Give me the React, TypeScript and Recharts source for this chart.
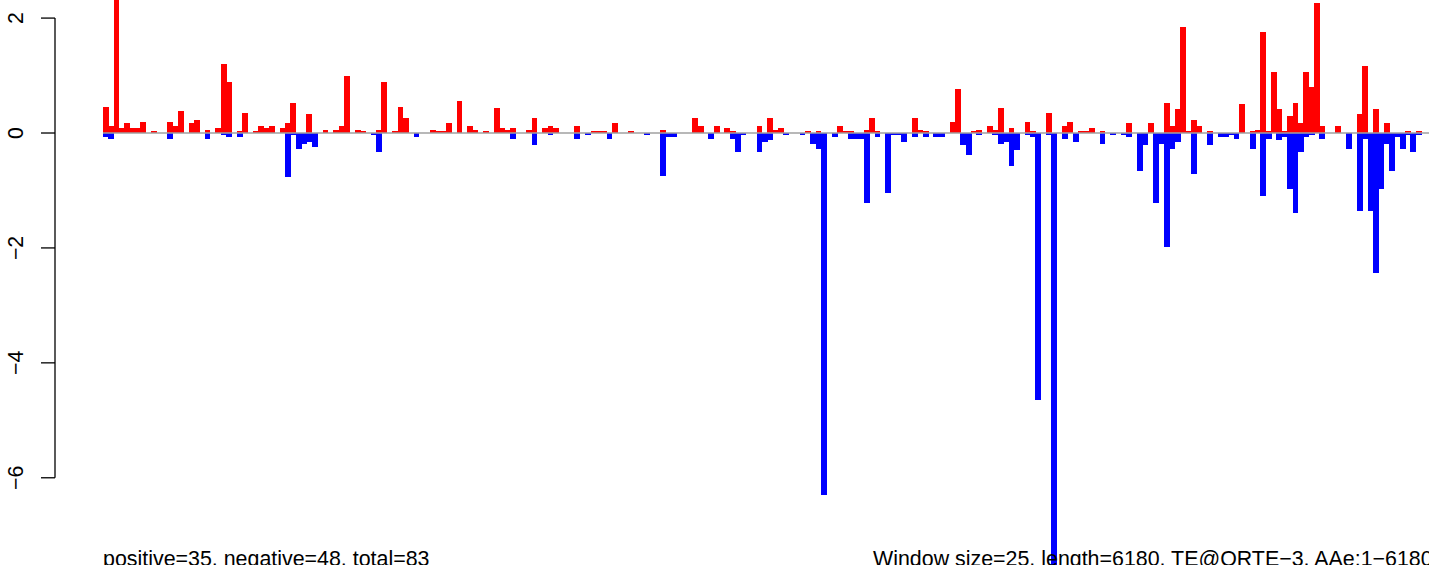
import React from 'react';
import { BarChart, Bar, XAxis, YAxis, ReferenceLine } from 'recharts';

// per-window scores, 25 aa windows
const positive = [
  0.46, 0.12, 2.6, 0.08, 0.17, 0.08, 0.08, 0.2, 0, 0.03,
  0, 0, 0.2, 0.12, 0.38, 0, 0.17, 0.22, 0, 0.05,
  0, 0.08, 1.2, 0.88, 0, 0.03, 0.34, 0, 0.03, 0.13,
  0.08, 0.12, 0, 0.08, 0.17, 0.52, 0, 0, 0.33, 0,
  0, 0.05, 0, 0.05, 0.12, 0.99, 0, 0.05, 0.03, 0,
  0, 0.05, 0.88, 0, 0.03, 0.46, 0.26, 0, 0, 0,
  0, 0.05, 0.03, 0.03, 0.17, 0, 0.55, 0, 0.12, 0.05,
  0, 0.03, 0, 0.43, 0.08, 0.05, 0.08, 0, 0, 0.05,
  0.26, 0, 0.08, 0.13, 0.08, 0, 0, 0, 0.12, 0,
  0, 0.03, 0.03, 0.03, 0, 0.17, 0, 0, 0.03, 0,
  0, 0, 0, 0, 0.05, 0, 0, 0, 0, 0,
  0.26, 0.12, 0, 0, 0.12, 0, 0.08, 0.03, 0, 0,
  0, 0, 0.13, 0, 0.26, 0.05, 0.08, 0, 0, 0,
  0, 0.03, 0, 0.03, 0, 0, 0, 0.12, 0.03, 0.03,
  0, 0, 0.05, 0.26, 0.03, 0, 0, 0, 0, 0,
  0, 0.26, 0.05, 0.03, 0, 0, 0, 0, 0.2, 0.76,
  0, 0, 0.03, 0.05, 0, 0.12, 0.05, 0.43, 0, 0.08,
  0, 0, 0.2, 0.03, 0, 0, 0.34, 0, 0, 0.13,
  0.2, 0, 0.03, 0.03, 0.08, 0, 0.03, 0, 0, 0,
  0, 0.17, 0, 0, 0, 0.17, 0, 0, 0.52, 0.13,
  0.41, 1.84, 0.03, 0.22, 0.13, 0, 0.03, 0, 0, 0,
  0, 0, 0.5, 0, 0.03, 0.05, 1.75, 0.03, 1.07, 0.41,
  0.03, 0.29, 0.52, 0.17, 1.07, 0.8, 2.26, 0.13, 0, 0,
  0.12, 0, 0, 0, 0.33, 1.16, 0, 0.41, 0, 0.17,
  0, 0, 0, 0.03, 0, 0.03,
];

const negative = [
  -0.07, -0.1, 0, 0, 0, 0, 0, 0, 0, 0,
  0, 0, -0.1, 0, 0, 0, 0, 0, 0, -0.1,
  0, 0, -0.03, -0.07, 0, -0.07, 0, 0, 0, 0,
  0, 0, 0, 0, -0.77, -0.03, -0.28, -0.19, -0.16, -0.24,
  0, 0, 0, 0, 0, 0, 0, 0, 0, 0,
  -0.03, -0.33, 0, 0, 0, 0, 0, 0, -0.07, 0,
  0, 0, 0, 0, 0, 0, 0, 0, 0, 0,
  0, 0, 0, 0, 0, 0, -0.1, 0, 0, 0,
  -0.21, 0, 0, -0.03, 0, 0, 0, 0, -0.1, 0,
  -0.03, 0, 0, 0, -0.1, 0, 0, 0, 0, 0,
  0, -0.03, 0, 0, -0.75, -0.07, -0.07, 0, 0, 0,
  0, 0, 0, -0.1, 0, 0, 0, -0.1, -0.33, -0.03,
  0, 0, -0.33, -0.16, -0.12, 0, 0, -0.03, 0, 0,
  -0.03, 0, -0.19, -0.28, -6.3, 0, -0.07, 0, 0, -0.1,
  -0.1, -0.1, -1.22, 0, -0.07, 0, -1.05, -0.03, -0.03, -0.16,
  0, -0.07, 0, -0.07, 0, -0.07, -0.07, 0, 0, 0,
  -0.21, -0.38, 0, -0.03, 0, 0, -0.03, -0.19, -0.16, -0.57,
  -0.3, 0, -0.03, -0.07, -4.65, 0, -0.03, -8.0, 0, -0.1,
  0, -0.16, 0, 0, 0, 0, -0.19, 0, -0.03, 0,
  -0.03, -0.07, 0, -0.66, -0.21, 0, -1.21, -0.19, -1.98, -0.28,
  -0.16, 0, 0, -0.71, 0, 0, -0.21, 0, -0.07, -0.07,
  -0.03, -0.1, 0, 0, -0.28, 0, -1.1, -0.1, 0, -0.12,
  -0.07, -0.98, -1.39, -0.33, -0.07, -0.03, 0, -0.1, 0, 0,
  0, 0, -0.28, 0, -1.36, -0.1, -1.36, -2.44, -0.98, -0.19,
  -0.66, -0.07, -0.28, -0.03, -0.33, -0.03,
];

const windowNo = positive.map((_, i) => i + 1);
const yTicks = [2, 0, -2, -4, -6];

const leftNote = 'positive=35, negative=48, total=83';
const rightNote = 'Window size=25, length=6180, TE@QRTE\u22123, AAe:1\u22126180';

const data = windowNo.map((w, i) => ({ w, pos: positive[i], neg: negative[i] }));

const W = 1429;
const H = 565;
const PLOT_LEFT = 103;
const RIGHT_PAD = 7.6;
const Y_MAX = 2.3147;
const Y_MIN = -7.518;
const AXIS_X = 55;
const TICK_LEN = 14;
const LABEL_X = 23;
const FONT = '"Liberation Sans", Arial, Helvetica, sans-serif';

const fmt = (v: number) => (v < 0 ? `\u2212${-v}` : `${v}`);

const YTick = (props: any) => {
  const { y, payload } = props;
  const pxPerUnit = H / (Y_MAX - Y_MIN);
  const span = (yTicks[0] - yTicks[yTicks.length - 1]) * pxPerUnit;
  return (
    <g>
      <line x1={AXIS_X - TICK_LEN} x2={AXIS_X} y1={y} y2={y} stroke="#000" strokeWidth={1.3} />
      {payload.value === yTicks[0] && (
        <line x1={AXIS_X} x2={AXIS_X} y1={y} y2={y + span} stroke="#000" strokeWidth={1.3} />
      )}
      <text
        x={LABEL_X}
        y={y}
        transform={`rotate(-90 ${LABEL_X} ${y})`}
        textAnchor="middle"
        fontSize={21.3}
        fontFamily={FONT}
        fill="#000"
      >
        {fmt(payload.value)}
      </text>
    </g>
  );
};

// solid block bars like R's barplot(space = 0): widen a hair so no seams show
const BlockBar = (props: any) => {
  const { x, y, width, height, fill } = props;
  if (!height || !width) return null;
  const top = Math.min(y, y + height);
  return (
    <rect
      x={x - 0.2}
      y={top}
      width={width + 0.5}
      height={Math.abs(height)}
      fill={fill}
      shapeRendering="crispEdges"
    />
  );
};

export default function App() {
  return (
    <div style={{ position: 'absolute', left: 0, top: 0, width: W, height: H, background: '#fff' }}>
      <BarChart
        width={W}
        height={H}
        data={data}
        margin={{ top: 0, right: 0, bottom: 0, left: 0 }}
        stackOffset="sign"
        barCategoryGap={0}
      >
        <XAxis dataKey="w" hide padding={{ left: 0, right: RIGHT_PAD }} />
        <YAxis
          width={PLOT_LEFT}
          domain={[Y_MIN, Y_MAX]}
          allowDataOverflow
          ticks={yTicks}
          axisLine={false}
          tickLine={false}
          tick={<YTick />}
          interval={0}
        />
        <ReferenceLine y={0} stroke="#a0a0a0" strokeWidth={1.5} />
        <Bar dataKey="pos" stackId="s" fill="#ff0000" barSize={5.35} shape={<BlockBar />} isAnimationActive={false} />
        <Bar dataKey="neg" stackId="s" fill="#0000ff" barSize={5.35} shape={<BlockBar />} isAnimationActive={false} />
      </BarChart>
      <svg
        width={W}
        height={H}
        style={{ position: 'absolute', left: 0, top: 0, pointerEvents: 'none' }}
      >
        <text x={103} y={566} fontSize={21.4} fontFamily={FONT} fill="#000">
          {leftNote}
        </text>
        <text x={873} y={566} fontSize={21.4} fontFamily={FONT} fill="#000">
          {rightNote}
        </text>
      </svg>
    </div>
  );
}
